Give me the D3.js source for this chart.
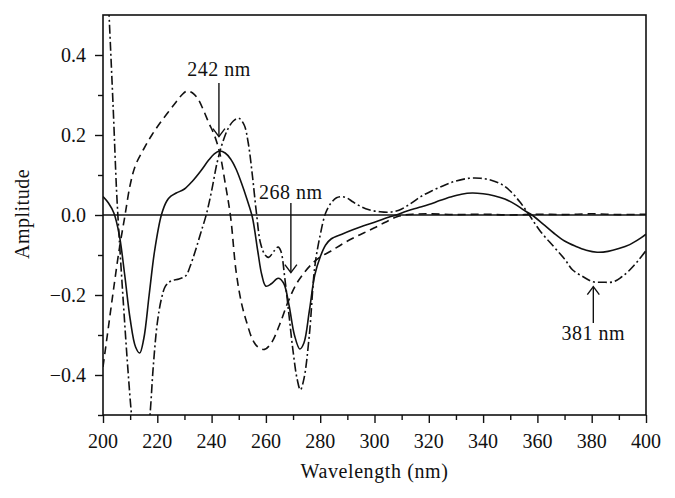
<!DOCTYPE html>
<html>
<head>
<meta charset="utf-8">
<script src="https://cdn.jsdelivr.net/npm/d3@7"></script>
<style>
  html, body { margin: 0; padding: 0; background: #fff; }
  svg text { font-family: "Liberation Serif", "DejaVu Serif", serif; fill: #111; }
</style>
</head>
<body>
<svg id="chart" width="675" height="498"></svg>
<script>
// ---- data ----
const solidX = [200,202,204,206,208,210,212,213.5,215,217,219,221.5,223.5,225,227,230,233,236,239,241,243,245,247,249,251,253,255,257,258.5,260,262,264.5,266.5,268.5,270.5,272.5,274,276,278,280,282,284,288,292,296,300,304,308,312,316,320,324,328,332,336,340,344,348,352,355,358,362,366,370,374,378,382,386,390,394,398,400];
const solidY = [0.046,0.03,0.005,-0.05,-0.15,-0.26,-0.33,-0.345,-0.31,-0.2,-0.09,0.0,0.035,0.047,0.055,0.065,0.085,0.11,0.138,0.153,0.16,0.155,0.14,0.115,0.08,0.04,-0.005,-0.09,-0.15,-0.178,-0.172,-0.158,-0.17,-0.225,-0.3,-0.335,-0.32,-0.24,-0.15,-0.105,-0.075,-0.06,-0.048,-0.037,-0.027,-0.018,-0.008,0.0,0.01,0.018,0.026,0.036,0.045,0.052,0.055,0.053,0.048,0.04,0.026,0.012,0.0,-0.022,-0.045,-0.065,-0.078,-0.088,-0.093,-0.091,-0.084,-0.074,-0.058,-0.048];

const dashedX = [200,202,204,206,208,210,212,215,218,221,224,227,229,231,233,235,237,239,241,243,245,247,249,251,253,255,257,259.5,262,265,268,271,274,277,280,284,288,292,296,300,304,308,311,314,320,330,340,350,360,370,380,390,400];
const dashedY = [-0.38,-0.28,-0.18,-0.085,-0.005,0.075,0.125,0.165,0.2,0.23,0.257,0.283,0.3,0.31,0.305,0.29,0.262,0.23,0.2,0.155,0.08,-0.005,-0.14,-0.22,-0.27,-0.31,-0.33,-0.336,-0.32,-0.275,-0.22,-0.175,-0.145,-0.122,-0.105,-0.09,-0.073,-0.058,-0.045,-0.032,-0.018,-0.005,0.0,0.002,0.003,0.001,0.002,0.0,0.002,0.001,0.003,0.001,0.002];

const dashDotX = [200,201,202.3,203.8,205,206,207.5,209,210.5,212,214,216,217.3,218.5,220,221.5,223,225,228,230.5,232,234,236,238,240,242,244,246,248,250,252,253.5,255,256.6,258,259.7,261,263,264.5,265.5,267,268.5,270,271.5,272.7,274,276,278,280,282,284,286,288,290,292,295,298,302,305.5,309,313,317,321,326,330,335,339,343,347,350,353.5,357,361,366,370,373,377,380.5,384,388,391,394,397,400];
const dashDotY = [0.9,0.68,0.49,0.26,0.06,-0.06,-0.22,-0.37,-0.5,-0.6,-0.64,-0.58,-0.5,-0.38,-0.27,-0.21,-0.178,-0.165,-0.16,-0.152,-0.13,-0.09,-0.045,0.0,0.06,0.13,0.18,0.215,0.235,0.242,0.225,0.18,0.1,0.0,-0.07,-0.1,-0.106,-0.09,-0.08,-0.09,-0.16,-0.25,-0.34,-0.41,-0.437,-0.41,-0.3,-0.13,-0.05,0.005,0.03,0.043,0.046,0.042,0.033,0.021,0.013,0.008,0.007,0.012,0.027,0.046,0.06,0.075,0.085,0.092,0.092,0.087,0.076,0.06,0.033,0.0,-0.04,-0.079,-0.11,-0.1375,-0.155,-0.167,-0.168,-0.167,-0.155,-0.1375,-0.115,-0.089];

const xTicks = [200,220,240,260,280,300,320,340,360,380,400];
const yTicks = [-0.4,-0.2,0.0,0.2,0.4];
const annotLabels = ["242 nm", "268 nm", "381 nm"];
const annotAt = [242.7, 269.2, 380.6];

// ---- layout ----
const svg = d3.select("#chart");
const mLeft = 103, mRight = 646, mTop = 15, mBottom = 415;
const x = d3.scaleLinear().domain([200, 400]).range([mLeft, mRight]);
const y = d3.scaleLinear().domain([-0.5, 0.5]).range([mBottom, mTop]);
const fmt = v => (v < 0 ? "\u2212" : "") + Math.abs(v).toFixed(1);
const FS = 20;

svg.append("defs").append("clipPath").attr("id", "clip")
  .append("rect").attr("x", mLeft).attr("y", mTop).attr("width", mRight - mLeft).attr("height", mBottom - mTop);

// axes
const xAxis = d3.axisBottom(x).tickValues(d3.range(200, 401, 10)).tickSize(0).tickFormat("");
const gx = svg.append("g").attr("transform", `translate(0,${mBottom})`).call(xAxis);
gx.select(".domain").remove();
gx.selectAll(".tick line").attr("y2", d => d % 20 === 0 ? 8 : 5).attr("stroke", "#111").attr("stroke-width", 1.4);
svg.append("g").selectAll("text").data(xTicks).join("text")
  .attr("x", d => x(d)).attr("y", 448).attr("text-anchor", "middle")
  .attr("font-size", FS).text(d => d);

const yMinor = [-0.5,-0.4,-0.3,-0.2,-0.1,0,0.1,0.2,0.3,0.4];
const yAxis = d3.axisLeft(y).tickValues(yMinor).tickSize(0).tickFormat("");
const gy = svg.append("g").attr("transform", `translate(${mLeft},0)`).call(yAxis);
gy.select(".domain").remove();
gy.selectAll(".tick line").attr("x2", d => (Math.round(d * 10) % 2 === 0) ? -8 : -5).attr("stroke", "#111").attr("stroke-width", 1.4);
svg.append("g").selectAll("text").data(yTicks).join("text")
  .attr("x", 86).attr("y", d => y(d)).attr("dy", "0.35em").attr("text-anchor", "end")
  .attr("font-size", FS).text(fmt);

// zero line
svg.append("line").attr("x1", mLeft).attr("x2", mRight).attr("y1", y(0)).attr("y2", y(0))
  .attr("stroke", "#111").attr("stroke-width", 1.5);

// series
const plot = svg.append("g").attr("clip-path", "url(#clip)");
const line = d3.line().x(d => x(d[0])).y(d => y(d[1])).curve(d3.curveCatmullRom.alpha(0.5));
const series = [
  { xs: solidX, ys: solidY, dash: null },
  { xs: dashedX, ys: dashedY, dash: "8,5" },
  { xs: dashDotX, ys: dashDotY, dash: "9,3,2,3" }
];
series.forEach(s => {
  plot.append("path").datum(s.xs.map((v, i) => [v, s.ys[i]]))
    .attr("d", line).attr("fill", "none").attr("stroke", "#111")
    .attr("stroke-width", 1.6).attr("stroke-dasharray", s.dash);
});

// frame
svg.append("rect").attr("x", mLeft).attr("y", mTop).attr("width", mRight - mLeft).attr("height", mBottom - mTop)
  .attr("fill", "none").attr("stroke", "#111").attr("stroke-width", 1.6);

// annotations (arrow from/to in data units)
const arrows = [
  { xv: annotAt[0], from: 0.33, to: 0.196, label: annotLabels[0], ly: 76 },
  { xv: annotAt[1], from: 0.03, to: -0.144, label: annotLabels[1], ly: 199 },
  { xv: annotAt[2], from: -0.27, to: -0.179, label: annotLabels[2], ly: 340 }
];
arrows.forEach(a => {
  const px = x(a.xv), y1 = y(a.from), y2 = y(a.to);
  const dir = y2 > y1 ? 1 : -1;
  svg.append("line").attr("x1", px).attr("x2", px).attr("y1", y1).attr("y2", y2)
    .attr("stroke", "#111").attr("stroke-width", 1.4);
  svg.append("path")
    .attr("d", `M${px - 6},${y2 - dir * 8} L${px},${y2} L${px + 6},${y2 - dir * 8}`)
    .attr("fill", "none").attr("stroke", "#111").attr("stroke-width", 1.4);
  svg.append("text").attr("x", px).attr("y", a.ly).attr("text-anchor", "middle")
    .attr("font-size", FS).attr("letter-spacing", 0.5).text(a.label);
});

// axis titles
svg.append("text").attr("x", (mLeft + mRight) / 2).attr("y", 478).attr("text-anchor", "middle")
  .attr("font-size", FS).attr("letter-spacing", 0.6).text("Wavelength (nm)");
svg.append("text").attr("transform", "translate(29,214) rotate(-90)").attr("text-anchor", "middle")
  .attr("font-size", FS).attr("letter-spacing", 0.5).text("Amplitude");
</script>
</body>
</html>
